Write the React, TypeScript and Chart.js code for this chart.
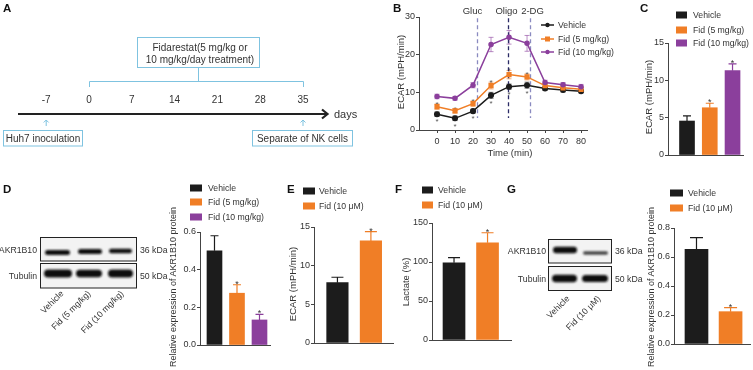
import React, { useEffect, useRef } from "react";
import { Chart, registerables } from "chart.js";

const FONT = '"Liberation Sans", Arial, Helvetica, sans-serif';
const INK = "#333333";
const AXIS = "#444444";
const BLACK = "#1c1c1c";
const ORANGE = "#f07e26";
const PURPLE = "#8b3f9c";
const BLUE = "#7fc3e0";
const TICK_SIZE = 9;
const LEGEND_SIZE = 8.7;
const TITLE_SIZE = 9.5;

// ---------- Panel A: timeline ----------
const timelineDays = [-7, 0, 7, 14, 21, 28, 35];

// ---------- Panel B: ECAR time course ----------
const seriesB = ["Vehicle", "Fid (5 mg/kg)", "Fid (10 mg/kg)"];
const timeMin = [0, 10, 20, 30, 40, 50, 60, 70, 80];
const ecarVehicle = [4.2, 3.1, 5.0, 9.2, 11.5, 11.9, 11.0, 10.6, 10.3];
const ecarVehicleErr = [0.6, 0.6, 0.5, 0.8, 0.7, 0.8, 0.5, 0.5, 0.4];
const ecarFid5 = [6.2, 5.1, 7.0, 11.8, 14.7, 14.1, 11.8, 11.2, 10.8];
const ecarFid5Err = [0.7, 0.6, 0.7, 0.9, 1.1, 0.8, 0.6, 0.6, 0.5];
const ecarFid10 = [8.9, 8.4, 11.9, 22.7, 24.6, 23.0, 12.6, 12.0, 11.5];
const ecarFid10Err = [0.6, 0.5, 0.7, 1.9, 1.8, 2.1, 0.6, 0.6, 0.6];
const starsVehicleB = [-1, -1, -1, -1, -1, -1, 0, 0, 0];
const starsFid5B = [1, 1, 1, 1, 1, 1, 0, 0, 0];
const injectionLabels = ["Gluc", "Oligo", "2-DG"];
const injectionTimes = [22.2, 39.4, 51.7];

// ---------- Panel C ----------
const groupsMouse = ["Vehicle", "Fid (5 mg/kg)", "Fid (10 mg/kg)"];
const ecarC = [4.55, 6.33, 11.3];
const ecarCErr = [0.7, 0.6, 0.9];
const starsC = [0, 1, 1];

// ---------- Panel D ----------
const akrD = [0.5, 0.275, 0.133];
const akrDErr = [0.08, 0.045, 0.03];
const starsD = [0, 1, 1];

// ---------- Panels E, F, G ----------
const groupsCell = ["Vehicle", "Fid (10 μM)"];
const ecarE = [7.8, 13.2];
const ecarEErr = [0.7, 1.2];
const lactateF = [99, 124.7];
const lactateFErr = [6.5, 12.8];
const akrG = [0.653, 0.223];
const akrGErr = [0.08, 0.028];
const starsCell = [0, 1];

const colors3 = [BLACK, ORANGE, PURPLE];
const colors2 = [BLACK, ORANGE];

// ---------- plugins ----------
function drawErrorBars(chart: any, opts: any) {
  const ctx = chart.ctx;
  chart.data.datasets.forEach((ds: any, i: number) => {
    const errs = ds.errors;
    if (!errs) return;
    const meta = chart.getDatasetMeta(i);
    const ys = chart.scales[meta.yAxisID];
    meta.data.forEach((el: any, j: number) => {
      const raw = ds.data[j];
      const v = typeof raw === "number" ? raw : raw.y;
      const e = errs[j];
      const col = Array.isArray(ds.errorColor) ? ds.errorColor[j] : ds.errorColor;
      const x = el.x;
      const yTop = ys.getPixelForValue(v + e);
      const yBot = opts.both ? ys.getPixelForValue(v - e) : ys.getPixelForValue(v);
      const cap = opts.capWidth || 6;
      ctx.save();
      ctx.strokeStyle = col;
      ctx.lineWidth = opts.lineWidth || 1;
      ctx.beginPath();
      ctx.moveTo(x, yBot);
      ctx.lineTo(x, yTop);
      ctx.moveTo(x - cap / 2, yTop);
      ctx.lineTo(x + cap / 2, yTop);
      if (opts.both) {
        ctx.moveTo(x - cap / 2, yBot);
        ctx.lineTo(x + cap / 2, yBot);
      }
      ctx.stroke();
      const s = ds.stars ? ds.stars[j] : 0;
      if (s) {
        ctx.fillStyle = opts.starColor || INK;
        ctx.font = `${opts.starSize || 9}px ${FONT}`;
        ctx.textAlign = "center";
        ctx.textBaseline = "alphabetic";
        const gap = opts.starGap || 3;
        if (s > 0) ctx.fillText("*", x, yTop - gap + 5);
        else ctx.fillText("*", x, yBot + gap + 6);
      }
      ctx.restore();
    });
  });
}

const errorBarPlugin = {
  id: "errorBars",
  beforeDatasetsDraw(chart: any, _a: any, opts: any) {
    if (opts && opts.phase === "before") drawErrorBars(chart, opts);
  },
  afterDatasetsDraw(chart: any, _a: any, opts: any) {
    if (opts && opts.phase === "after") drawErrorBars(chart, opts);
  },
};

const injectionPlugin = {
  id: "injections",
  beforeDatasetsDraw(chart: any, _a: any, opts: any) {
    if (!opts || !opts.times) return;
    const ctx = chart.ctx;
    const xs = chart.scales.x;
    const ys = chart.scales.y;
    opts.times.forEach((t: number, i: number) => {
      const x = Math.round(xs.getPixelForValue(t)) + 0.5;
      ctx.save();
      ctx.strokeStyle = opts.colors[i];
      ctx.lineWidth = 1.3;
      ctx.setLineDash([4, 3]);
      ctx.beginPath();
      ctx.moveTo(x, ys.getPixelForValue(opts.from));
      ctx.lineTo(x, ys.getPixelForValue(opts.to));
      ctx.stroke();
      ctx.setLineDash([]);
      ctx.fillStyle = INK;
      ctx.font = `${TITLE_SIZE}px ${FONT}`;
      ctx.textAlign = "center";
      ctx.textBaseline = "middle";
      ctx.fillText(opts.labels[i], x + opts.offsets[i], opts.labelY);
      ctx.restore();
    });
  },
};

Chart.register(...registerables, errorBarPlugin, injectionPlugin);
Chart.defaults.font.family = FONT;

function yScale(max: number, step: number, width: number, fmt: (v: number) => string) {
  return {
    type: "linear",
    min: 0,
    max,
    afterFit: (s: any) => {
      s.width = width;
    },
    ticks: { stepSize: step, color: INK, font: { size: TICK_SIZE, family: FONT }, padding: 1, callback: (v: any) => fmt(Number(v)) },
    grid: { drawOnChartArea: false, drawTicks: true, tickLength: 3, color: AXIS, lineWidth: 1 },
    border: { display: true, color: AXIS, width: 1 },
  };
}

// ---------- Panel B chart ----------
function LinePanel() {
  const ref = useRef<HTMLCanvasElement>(null);
  useEffect(() => {
    const mk = (vals: number[]) => timeMin.map((t, i) => ({ x: t, y: vals[i] }));
    const chart = new Chart(ref.current!, {
      type: "line",
      data: {
        datasets: [
          {
            label: seriesB[2],
            data: mk(ecarFid10),
            borderColor: PURPLE,
            backgroundColor: PURPLE,
            borderWidth: 1.5,
            pointRadius: 2,
            pointStyle: "circle",
            errors: ecarFid10Err,
            errorColor: "rgba(139,63,156,0.6)",
          },
          {
            label: seriesB[1],
            data: mk(ecarFid5),
            borderColor: ORANGE,
            backgroundColor: ORANGE,
            borderWidth: 1.5,
            pointRadius: 2.6,
            pointStyle: "rect",
            errors: ecarFid5Err,
            errorColor: "rgba(240,126,38,0.6)",
            stars: starsFid5B,
          },
          {
            label: seriesB[0],
            data: mk(ecarVehicle),
            borderColor: BLACK,
            backgroundColor: BLACK,
            borderWidth: 1.5,
            pointRadius: 2.3,
            pointStyle: "circle",
            errors: ecarVehicleErr,
            errorColor: "rgba(40,40,40,0.6)",
            stars: starsVehicleB,
          },
        ] as any,
      },
      options: {
        responsive: false,
        animation: false,
        layout: { padding: { top: 17, right: 13, bottom: 0, left: 0 } },
        plugins: {
          legend: { display: false },
          tooltip: { enabled: false },
          errorBars: { phase: "before", both: true, capWidth: 5, lineWidth: 1, starColor: "#555", starSize: 8, starGap: 2 },
          injections: {
            times: injectionTimes,
            labels: injectionLabels,
            colors: ["#8a8ac0", "#2b2b66", "#8a8ac0"],
            offsets: [-5, -2, 2],
            from: 29.7,
            to: 3.2,
            labelY: 11,
          },
        } as any,
        scales: {
          x: {
            type: "linear",
            min: -10,
            max: 83.3,
            afterBuildTicks: (s: any) => {
              s.ticks = timeMin.map((v) => ({ value: v }));
            },
            afterFit: (s: any) => {
              s.height = 30;
            },
            ticks: { color: INK, font: { size: TICK_SIZE, family: FONT }, padding: 3, maxRotation: 0 },
            grid: { drawOnChartArea: false, drawTicks: true, tickLength: 3, color: AXIS },
            border: { display: true, color: AXIS, width: 1 },
          },
          y: yScale(30, 10, 49, (v) => String(v)) as any,
        },
      } as any,
    });
    return () => chart.destroy();
  }, []);
  return <canvas ref={ref} width={230} height={160} style={{ position: "absolute", left: 370, top: 0, width: 230, height: 160 }} />;
}

// ---------- bar panels ----------
type BarProps = {
  box: { left: number; top: number; w: number; h: number };
  pad: { top: number; right: number; bottom: number };
  yW: number;
  labels: string[];
  values: number[];
  errors: number[];
  stars: number[];
  colors: string[];
  yMax: number;
  yStep: number;
  fmt: (v: number) => string;
  xMin: number;
  xMax: number;
  barW: number;
};

function BarPanel(p: BarProps) {
  const ref = useRef<HTMLCanvasElement>(null);
  useEffect(() => {
    const chart = new Chart(ref.current!, {
      type: "bar",
      data: {
        datasets: [
          {
            label: p.labels.join(" / "),
            data: p.values.map((v, i) => ({ x: i + 1, y: v })),
            backgroundColor: p.colors,
            borderWidth: 0,
            barThickness: p.barW,
            errors: p.errors,
            errorColor: p.colors,
            stars: p.stars,
          },
        ] as any,
      },
      options: {
        responsive: false,
        animation: false,
        layout: { padding: { top: p.pad.top, right: p.pad.right, bottom: p.pad.bottom, left: 0 } },
        plugins: {
          legend: { display: false },
          tooltip: { enabled: false },
          errorBars: { phase: "after", both: false, capWidth: Math.round(p.barW * 0.55), lineWidth: 1.2, starColor: INK, starSize: 9, starGap: 3 },
        } as any,
        scales: {
          x: {
            type: "linear",
            min: p.xMin,
            max: p.xMax,
            offset: false,
            afterFit: (s: any) => {
              s.height = 2;
            },
            ticks: { display: false },
            grid: { display: false, drawTicks: false, offset: false },
            border: { display: true, color: AXIS, width: 1 },
          },
          y: yScale(p.yMax, p.yStep, p.yW, p.fmt) as any,
        },
      } as any,
    });
    return () => chart.destroy();
  }, []);
  const b = p.box;
  return <canvas ref={ref} width={b.w} height={b.h} style={{ position: "absolute", left: b.left, top: b.top, width: b.w, height: b.h }} />;
}

// ---------- SVG helpers ----------
function T(props: any) {
  const { children, size = 10, anchor = "start", bold = false, ...rest } = props;
  return (
    <text fontFamily={FONT} fill={INK} fontSize={size} fontWeight={bold ? "bold" : "normal"} textAnchor={anchor} dominantBaseline="central" {...rest}>
      {children}
    </text>
  );
}

function BoxLegend({ x, textX, ys, labels, colors, w, h = 7 }: any) {
  return (
    <g>
      {labels.map((l: string, i: number) => (
        <g key={i}>
          <rect x={x} y={ys[i] - h / 2} width={w} height={h} fill={colors[i]} />
          <T x={textX} y={ys[i]} size={LEGEND_SIZE}>{l}</T>
        </g>
      ))}
    </g>
  );
}

function Band({ x1, x2, y, h, c = "#111" }: any) {
  return <rect x={x1} y={y - h / 2} width={x2 - x1} height={h} rx={h / 2} fill={c} filter="url(#blur)" />;
}

function Overlay() {
  const dayX = (d: number) => 89 + (d * 42.8) / 7;
  const legB = [25, 39, 52];
  return (
    <svg width={753} height={370} style={{ position: "absolute", left: 0, top: 0, pointerEvents: "none" }}>
      <defs>
        <filter id="blur" x="-20%" y="-100%" width="140%" height="300%">
          <feGaussianBlur stdDeviation="1.1" />
        </filter>
      </defs>

      {/* panel letters */}
      <T x={3} y={8} size={11.5} bold fill="#111">A</T>
      <T x={393} y={8} size={11.5} bold fill="#111">B</T>
      <T x={640} y={8} size={11.5} bold fill="#111">C</T>
      <T x={3} y={189} size={11.5} bold fill="#111">D</T>
      <T x={287} y={189} size={11.5} bold fill="#111">E</T>
      <T x={395} y={189} size={11.5} bold fill="#111">F</T>
      <T x={507} y={189} size={11.5} bold fill="#111">G</T>

      {/* Panel A */}
      <rect x={137.5} y={37.5} width={122} height={30} fill="#fff" stroke={BLUE} strokeWidth={1} />
      <T x={200} y={47} anchor="middle">Fidarestat(5 mg/kg or</T>
      <T x={200} y={59} anchor="middle">10 mg/kg/day treatment)</T>
      <line x1={198.5} y1={67.5} x2={198.5} y2={81.5} stroke={BLUE} strokeWidth={1} />
      <polyline points="89.5,87 89.5,81.5 303.5,81.5 303.5,87" stroke={BLUE} strokeWidth={1} fill="none" />
      {timelineDays.map((d) => (
        <T key={d} x={dayX(d)} y={99} anchor="middle">{String(d)}</T>
      ))}
      <line x1={18} y1={114} x2={327} y2={114} stroke="#222" strokeWidth={2} />
      <polyline points="322,109.5 327.5,114 322,118.5" stroke="#222" strokeWidth={2.2} fill="none" />
      <T x={334} y={114} size={11}>days</T>
      {[dayX(-7), dayX(35)].map((x, i) => (
        <g key={i}>
          <line x1={x} y1={126} x2={x} y2={120} stroke={BLUE} strokeWidth={1} />
          <polyline points={`${x - 2.5},122.5 ${x},120 ${x + 2.5},122.5`} stroke={BLUE} strokeWidth={1} fill="none" />
        </g>
      ))}
      <rect x={3.5} y={130.5} width={79} height={15.5} fill="#fff" stroke={BLUE} strokeWidth={1} />
      <T x={43} y={138.5} anchor="middle">Huh7 inoculation</T>
      <rect x={252.5} y={130.5} width={100} height={15.5} fill="#fff" stroke={BLUE} strokeWidth={1} />
      <T x={302.5} y={138.5} anchor="middle">Separate of NK cells</T>

      {/* Panel B legend + titles */}
      {seriesB.map((s, i) => {
        const c = colors3[i];
        const y = legB[i];
        return (
          <g key={s}>
            <line x1={541} y1={y} x2={554} y2={y} stroke={c} strokeWidth={1.5} />
            {i === 1 ? <rect x={545} y={y - 2.5} width={5} height={5} fill={c} /> : <circle cx={547.5} cy={y} r={2.2} fill={c} />}
            <T x={558} y={y} size={LEGEND_SIZE}>{s}</T>
          </g>
        );
      })}
      <T x={0} y={0} anchor="middle" size={TITLE_SIZE} transform="translate(400,72) rotate(-90)">ECAR (mPH/min)</T>
      <T x={510} y={152} anchor="middle" size={TITLE_SIZE}>Time (min)</T>

      {/* Panel C */}
      <BoxLegend x={676} textX={693} ys={[15, 30, 43]} labels={groupsMouse} colors={colors3} w={11} />
      <T x={0} y={0} anchor="middle" size={TITLE_SIZE} transform="translate(648,97) rotate(-90)">ECAR (mPH/min)</T>

      {/* Panel D blot */}
      <rect x={40.5} y={237.5} width={96} height={23.5} fill="#f3f3f3" stroke="#222" strokeWidth={1} />
      <rect x={40.5} y={263.5} width={96} height={24.5} fill="#f3f3f3" stroke="#222" strokeWidth={1} />
      <Band x1={45} x2={70} y={252.5} h={5} />
      <Band x1={78} x2={102} y={251.5} h={5} />
      <Band x1={109} x2={132} y={251} h={4.5} />
      <Band x1={44} x2={72} y={273.5} h={8} />
      <Band x1={76} x2={102} y={273.5} h={7.5} />
      <Band x1={108} x2={133} y={273.5} h={8} />
      <T x={37} y={249.5} anchor="end" size={LEGEND_SIZE}>AKR1B10</T>
      <T x={37} y={275.5} anchor="end" size={LEGEND_SIZE}>Tubulin</T>
      <T x={140} y={249.5} size={LEGEND_SIZE}>36 kDa</T>
      <T x={140} y={275.5} size={LEGEND_SIZE}>50 kDa</T>
      {groupsMouse.map((g, i) => {
        const x = [62, 89, 122][i];
        return (
          <T key={g} x={x} y={292} anchor="end" size={LEGEND_SIZE} transform={`rotate(-45 ${x} 292)`}>{g}</T>
        );
      })}
      <BoxLegend x={190} textX={208} ys={[188, 202, 217]} labels={groupsMouse} colors={colors3} w={12} />
      <T x={0} y={0} anchor="middle" size={9} transform="translate(173,287) rotate(-90)">Relative expression of AKR1B10 protein</T>

      {/* Panel E */}
      <BoxLegend x={303} textX={319} ys={[191, 206]} labels={groupsCell} colors={colors2} w={12} />
      <T x={0} y={0} anchor="middle" size={TITLE_SIZE} transform="translate(292,284) rotate(-90)">ECAR (mPH/min)</T>

      {/* Panel F */}
      <BoxLegend x={422} textX={438} ys={[190, 205]} labels={groupsCell} colors={colors2} w={11} />
      <T x={0} y={0} anchor="middle" size={TITLE_SIZE} transform="translate(405,282) rotate(-90)">Lactate (%)</T>

      {/* Panel G blot */}
      <rect x={548.5} y={239.5} width={63} height={23.5} fill="#f3f3f3" stroke="#222" strokeWidth={1} />
      <rect x={548.5} y={266.5} width={63} height={24} fill="#f3f3f3" stroke="#222" strokeWidth={1} />
      <Band x1={553} x2={577} y={250} h={6.5} />
      <Band x1={583} x2={608} y={253} h={3.5} c="#444" />
      <Band x1={552} x2={577} y={278.5} h={7.5} />
      <Band x1={582} x2={608} y={278.5} h={7} />
      <T x={546} y={251} anchor="end" size={LEGEND_SIZE}>AKR1B10</T>
      <T x={546} y={278.5} anchor="end" size={LEGEND_SIZE}>Tubulin</T>
      <T x={615} y={250.5} size={LEGEND_SIZE}>36 kDa</T>
      <T x={615} y={279} size={LEGEND_SIZE}>50 kDa</T>
      {groupsCell.map((g, i) => {
        const x = [568, 599][i];
        return (
          <T key={g} x={x} y={297} anchor="end" size={LEGEND_SIZE} transform={`rotate(-45 ${x} 297)`}>{g}</T>
        );
      })}
      <BoxLegend x={670} textX={688} ys={[193, 208]} labels={groupsCell} colors={colors2} w={13} />
      <T x={0} y={0} anchor="middle" size={9} transform="translate(651,287) rotate(-90)">Relative expression of AKR1B10 protein</T>
    </svg>
  );
}

export default function App() {
  const f1 = (v: number) => v.toFixed(1);
  const f0 = (v: number) => String(Math.round(v));
  return (
    <div style={{ position: "absolute", left: 0, top: 0, width: 753, height: 370, background: "#fff", overflow: "hidden" }}>
      <LinePanel />
      <BarPanel
        box={{ left: 636, top: 0, w: 117, h: 165 }}
        pad={{ top: 43, right: 10, bottom: 8 }}
        yW={32}
        labels={groupsMouse}
        values={ecarC}
        errors={ecarCErr}
        stars={starsC}
        colors={colors3}
        yMax={15}
        yStep={5}
        fmt={f0}
        xMin={0.165}
        xMax={3.46}
        barW={15}
      />
      <BarPanel
        box={{ left: 160, top: 185, w: 112, h: 170 }}
        pad={{ top: 47, right: 2, bottom: 8 }}
        yW={40}
        labels={groupsMouse}
        values={akrD}
        errors={akrDErr}
        stars={starsD}
        colors={colors3}
        yMax={0.6}
        yStep={0.2}
        fmt={f1}
        xMin={0.356}
        xMax={3.467}
        barW={15}
      />
      <BarPanel
        box={{ left: 280, top: 185, w: 116, h: 168 }}
        pad={{ top: 42, right: 3, bottom: 8 }}
        yW={34}
        labels={groupsCell}
        values={ecarE}
        errors={ecarEErr}
        stars={starsCell}
        colors={colors2}
        yMax={15}
        yStep={5}
        fmt={f0}
        xMin={0.3}
        xMax={2.66}
        barW={21.5}
      />
      <BarPanel
        box={{ left: 393, top: 185, w: 120, h: 165 }}
        pad={{ top: 38, right: 2, bottom: 8 }}
        yW={39}
        labels={groupsCell}
        values={lactateF}
        errors={lactateFErr}
        stars={starsCell}
        colors={colors2}
        yMax={150}
        yStep={50}
        fmt={f0}
        xMin={0.343}
        xMax={2.7}
        barW={22}
      />
      <BarPanel
        box={{ left: 639, top: 185, w: 114, h: 169 }}
        pad={{ top: 43, right: 3, bottom: 8 }}
        yW={35}
        labels={groupsCell}
        values={akrG}
        errors={akrGErr}
        stars={starsCell}
        colors={colors2}
        yMax={0.8}
        yStep={0.2}
        fmt={f1}
        xMin={0.34}
        xMax={2.57}
        barW={23}
      />
      <Overlay />
    </div>
  );
}
